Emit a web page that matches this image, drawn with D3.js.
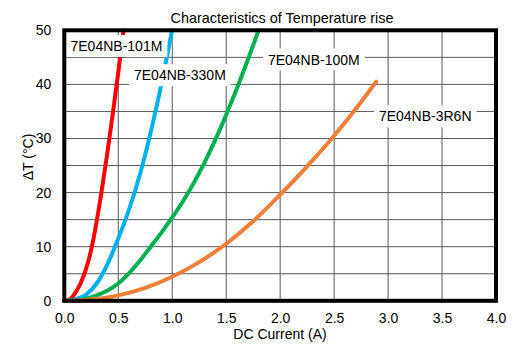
<!DOCTYPE html>
<html><head><meta charset="utf-8">
<script src="https://cdn.jsdelivr.net/npm/d3@7"></script>
<style>html,body{margin:0;padding:0;background:#fff;}svg{display:block;font-family:"Liberation Sans",Arial,sans-serif;}</style>
</head><body><svg id="c" width="524" height="355"></svg>
<script>
const title = "Characteristics of Temperature rise";
const xTitle = "DC Current (A)";
const yTitle = "ΔT (°C)";
const xTicks = [0, 0.5, 1.0, 1.5, 2.0, 2.5, 3.0, 3.5, 4.0];
const yTicks = [0, 10, 20, 30, 40, 50];
const yGrid = [5, 10, 15, 20, 25, 30, 35, 40, 45];

const names = ["7E04NB-101M", "7E04NB-330M", "7E04NB-100M", "7E04NB-3R6N"];
const colors = ["#ff0000", "#00b0f0", "#00b050", "#f07f3a"];

const red101M = [[0,0],[0.03,0.03],[0.05,0.2],[0.1,1.4],[0.15,3.2],[0.2,5.8],[0.25,9.5],[0.3,14.7],[0.35,20.8],[0.4,27.5],[0.45,34.7],[0.5,42.2],[0.549,50]];
const blue330M = [[0,0],[0.05,0.05],[0.1,0.3],[0.2,1.1],[0.3,3.2],[0.4,6.8],[0.5,11.5],[0.6,16.9],[0.7,23.3],[0.8,31.1],[0.9,40.1],[0.998,50]];
const green100M = [[0,0],[0.1,0.05],[0.2,0.4],[0.3,1.0],[0.4,1.9],[0.5,3.2],[0.6,5.1],[0.7,7.4],[0.8,10],[0.9,12.6],[1.0,15.4],[1.1,18.4],[1.2,21.8],[1.3,25.6],[1.4,29.8],[1.5,34.4],[1.6,39.3],[1.7,44.5],[1.8,50]];
const orange3R6N = [[0,0],[0.125,0.05],[0.25,0.25],[0.5,1.0],[0.75,2.4],[1.0,4.45],[1.25,7.15],[1.5,10.55],[1.75,14.7],[2.0,19.6],[2.25,24.85],[2.5,30.5],[2.75,36.75],[2.89,40.5]];
const series = [red101M, blue330M, green100M, orange3R6N];
// label anchors (data units)
const labelAt = [[0.483,47.1],[1.071,41.7],[2.312,44.6],[3.344,34.1]];

const svg = d3.select("#c");
const x = d3.scaleLinear().domain([0,4]).range([64.3,496]);
const y = d3.scaleLinear().domain([0,50]).range([300.8,30.3]);

// grid
svg.append("g").selectAll("line").data(xTicks.slice(1,-1)).join("line")
  .attr("x1",d=>x(d)).attr("x2",d=>x(d)).attr("y1",y(50)).attr("y2",y(0))
  .attr("stroke","#595959").attr("stroke-width",1);
svg.append("g").selectAll("line").data(yGrid).join("line")
  .attr("y1",d=>y(d)).attr("y2",d=>y(d)).attr("x1",x(0)).attr("x2",x(4))
  .attr("stroke","#595959").attr("stroke-width",1);

// lines
const line = d3.line().x(d=>x(d[0])).y(d=>y(d[1])).curve(d3.curveMonotoneX);
svg.append("g").selectAll("path").data(series).join("path")
  .attr("d",line).attr("fill","none").attr("stroke",(d,i)=>colors[i])
  .attr("stroke-width",4).attr("stroke-linecap","round");

// labels
const lg = svg.append("g").style("font-size","14px");
names.forEach((n,i)=>{
  const g = lg.append("g");
  const r = g.append("rect").attr("fill","#fff");
  const t = g.append("text").attr("x",x(labelAt[i][0])).attr("y",y(labelAt[i][1]))
    .attr("text-anchor","middle").attr("dominant-baseline","central").attr("fill","#000").text(n);
  const b = t.node().getBBox();
  r.attr("x",b.x-5).attr("y",b.y-3).attr("width",b.width+10).attr("height",b.height+6);
});

// border
svg.append("rect").attr("x",x(0)).attr("y",y(50)).attr("width",x(4)-x(0)).attr("height",y(0)-y(50))
  .attr("fill","none").attr("stroke","#000").attr("stroke-width",4);

// axes
const xAxis = d3.axisBottom(x).tickValues(xTicks).tickFormat(d3.format(".1f")).tickSize(0).tickPadding(12);
const gx = svg.append("g").attr("transform",`translate(0,${y(0)})`).call(xAxis);
const yAxis = d3.axisLeft(y).tickValues(yTicks).tickSize(0).tickPadding(13);
const gy = svg.append("g").attr("transform",`translate(${x(0)},0)`).call(yAxis);
[gx,gy].forEach(g=>{g.select(".domain").remove();
  g.selectAll("text").attr("fill","#000").style("font-size","14px").style("font-family","'Liberation Sans',Arial,sans-serif");});

svg.append("text").attr("x",282).attr("y",23).attr("text-anchor","middle").style("font-size","14.4px").text(title);
svg.append("text").attr("x",280).attr("y",339).attr("text-anchor","middle").style("font-size","14px").text(xTitle);
svg.append("text").attr("transform","translate(33,157) rotate(-90)").attr("text-anchor","middle").style("font-size","14px").text(yTitle);
</script></body></html>
